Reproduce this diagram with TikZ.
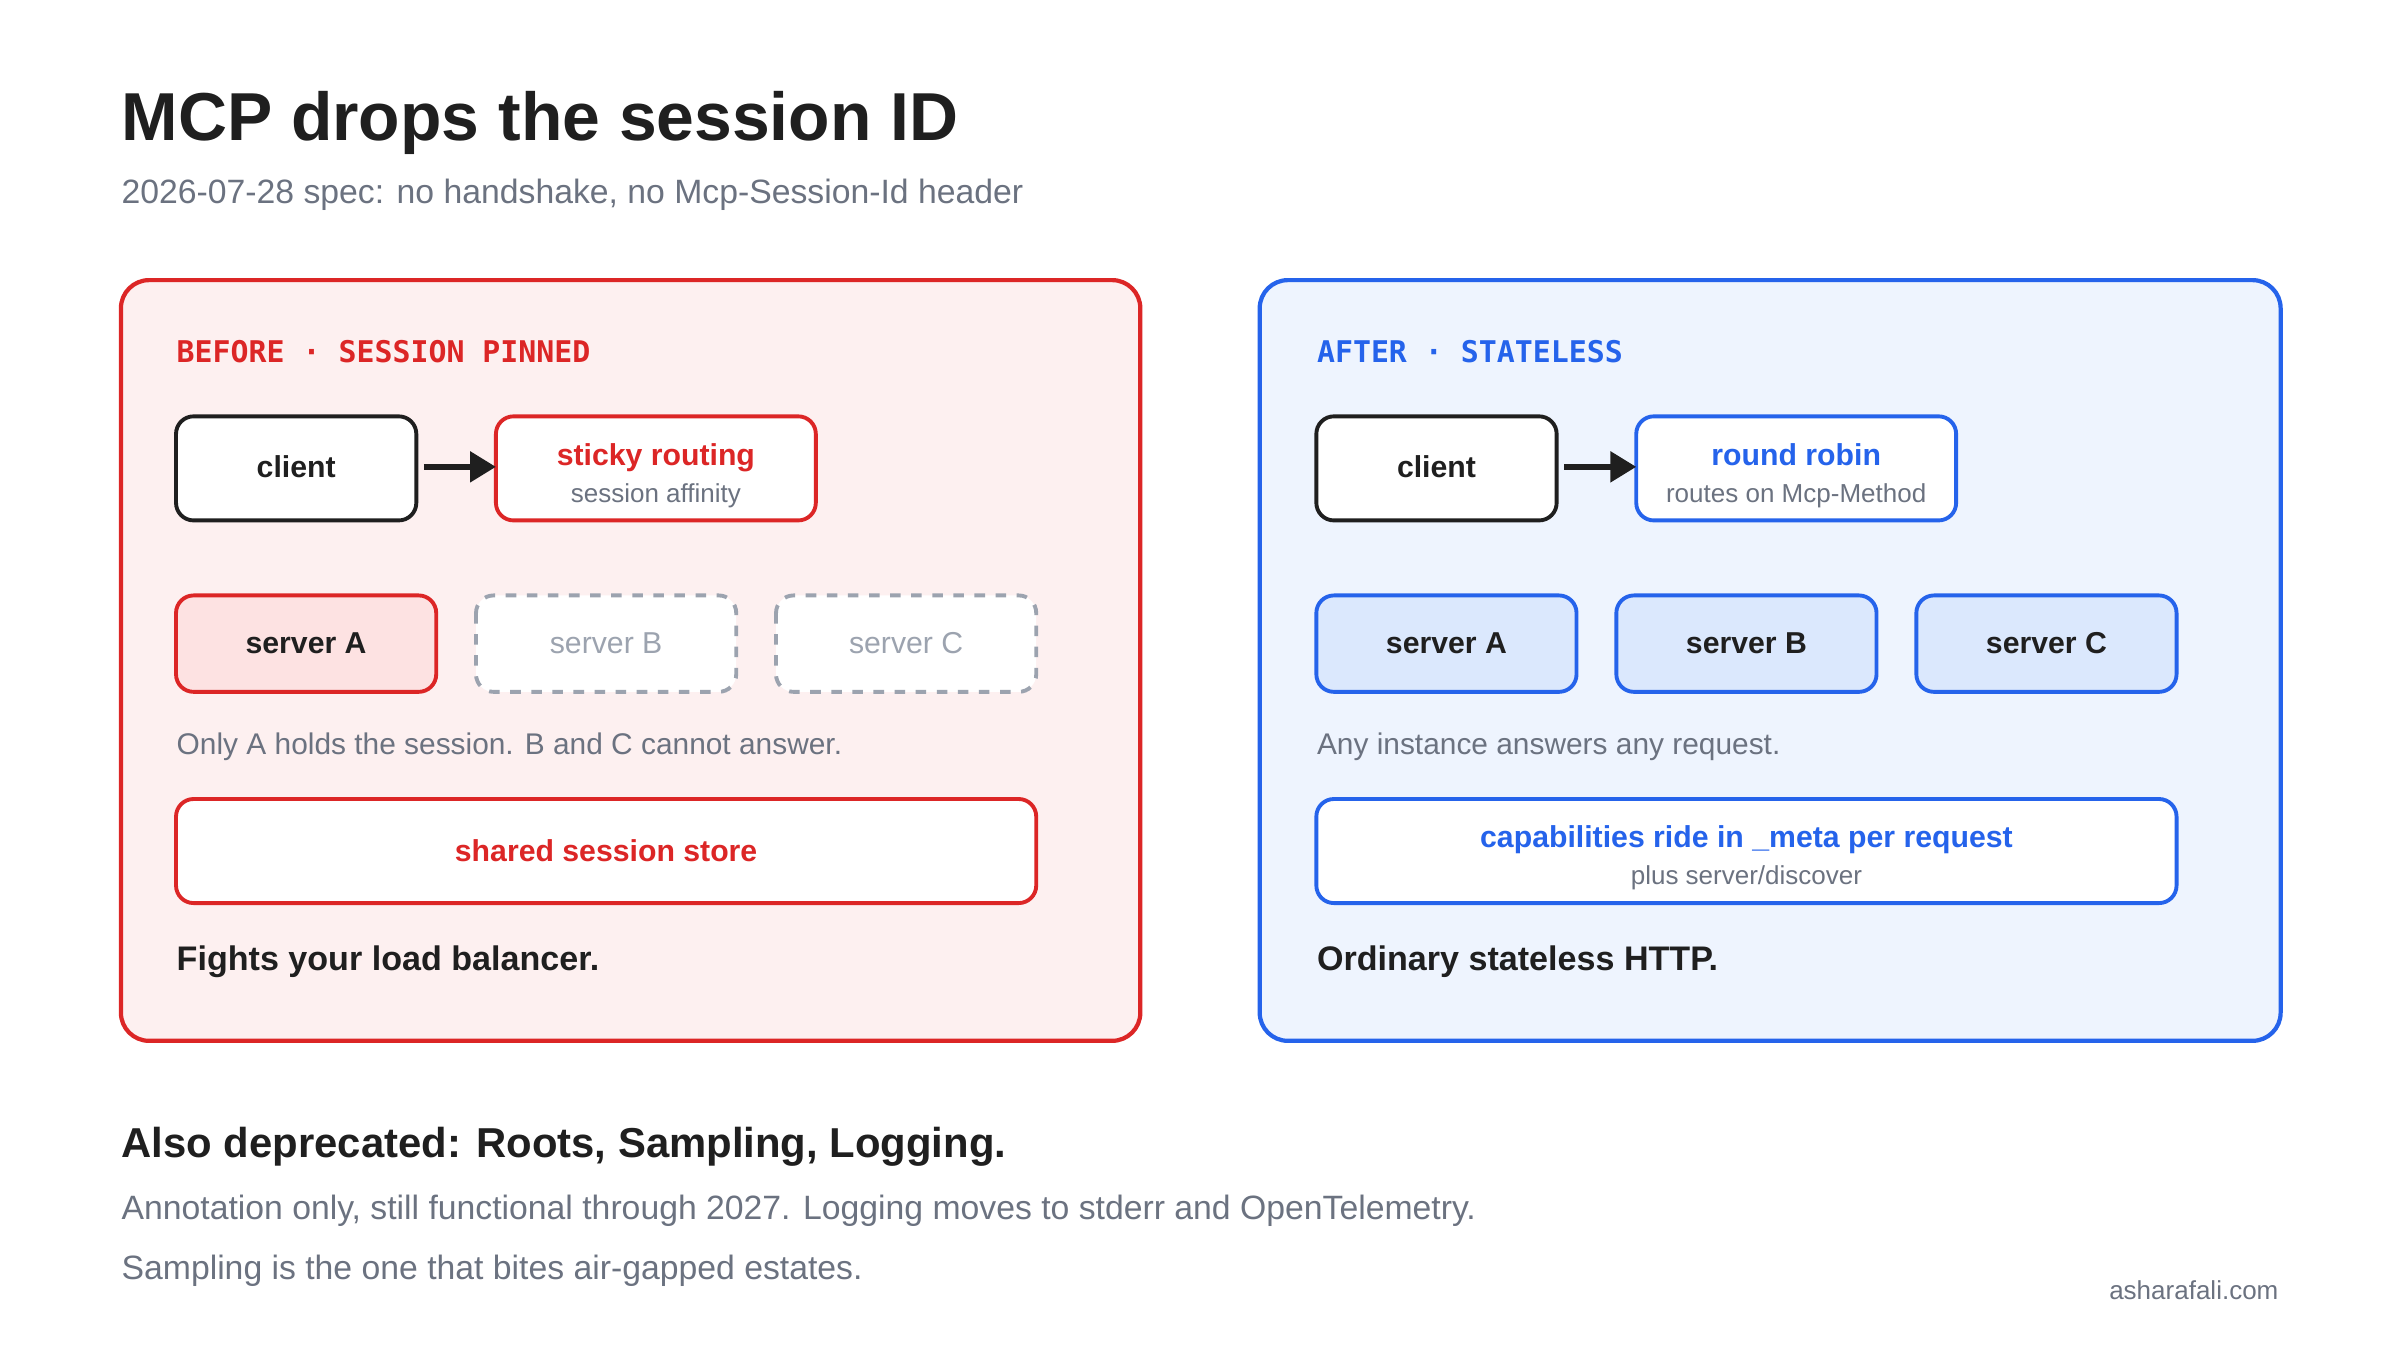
\documentclass[tikz,border=0pt]{standalone}
\usepackage{fontspec}
\setmainfont{Liberation Sans}
\setmonofont{DejaVu Sans Mono}
\usetikzlibrary{arrows.meta}
\definecolor{ink}{HTML}{1F1F1F}
\definecolor{muted}{HTML}{6B7280}
\definecolor{redc}{HTML}{DC2626}
\definecolor{redbg}{HTML}{FDF0F0}
\definecolor{redfill}{HTML}{FDE2E2}
\definecolor{bluec}{HTML}{2563EB}
\definecolor{bluebg}{HTML}{EEF4FE}
\definecolor{bluefill}{HTML}{DBE8FD}
\definecolor{dash}{HTML}{9CA3AF}
\tikzset{>=Triangle}
\begin{document}
\begin{tikzpicture}[x=0.015306cm, y=-0.015306cm]
    \tikzset{panel/.style={rounded corners=8pt, line width=1.2pt}}
    \tikzset{box/.style={rounded corners=5pt, line width=1.1pt, fill=white}}
    \tikzset{txt/.style={anchor=base west, inner sep=0pt}}
    \tikzset{lbl/.style={anchor=base, inner sep=0pt, font=\fontsize{8.6}{10}\selectfont\bfseries}}
    \tikzset{sub/.style={anchor=base, inner sep=0pt, font=\fontsize{7.4}{9}\selectfont, text=muted}}
    \useasboundingbox (0,0) rectangle (1568,882);
    % heading
    \node[txt, font=\fontsize{19.3}{23}\selectfont\bfseries, text=ink] (title) at (79,92) {MCP drops the session ID};
    \node[txt, font=\fontsize{9.6}{12}\selectfont, text=muted] (subtitle) at (79,133) {2026-07-28 spec: no handshake, no Mcp-Session-Id header};
    % before
    \draw[panel, draw=redc, fill=redbg] (79,183) rectangle (745,680);
    \node[txt, font=\fontsize{8.5}{10}\ttfamily\bfseries, text=redc] (beforeHead) at (115,237) {BEFORE · SESSION PINNED};
    \draw[box, draw=ink] (115,272) rectangle (272,340);
    \node[lbl, text=ink] (clientL) at (193.5,312) {client};
    \draw[box, draw=redc] (324,272) rectangle (533,340);
    \node[lbl, text=redc] (sticky) at (428.5,304) {sticky routing};
    \node[sub] (affinity) at (428.5,328) {session affinity};
    \draw[->, line width=1.6pt, ink] (277,305) -- (324,305);
    \draw[box, draw=redc, fill=redfill] (115,389) rectangle (285,452);
    \node[lbl, text=ink] (srvAL) at (200,427) {server A};
    \draw[box, draw=dash, dashed] (311,389) rectangle (481,452);
    \node[lbl, font=\fontsize{8.6}{10}\selectfont, text=dash] (srvBL) at (396,427) {server B};
    \draw[box, draw=dash, dashed] (507,389) rectangle (677,452);
    \node[lbl, font=\fontsize{8.6}{10}\selectfont, text=dash] (srvCL) at (592,427) {server C};
    \node[txt, font=\fontsize{8.5}{11}\selectfont, text=muted] (onlyA) at (115,493) {Only A holds the session. B and C cannot answer.};
    \draw[box, draw=redc] (115,522) rectangle (677,590);
    \node[lbl, text=redc] (store) at (396,563) {shared session store};
    \node[txt, font=\fontsize{9.7}{12}\selectfont\bfseries, text=ink] (fights) at (115,634) {Fights your load balancer.};
    % after
    \draw[panel, draw=bluec, fill=bluebg] (823,183) rectangle (1490,680);
    \node[txt, font=\fontsize{8.5}{10}\ttfamily\bfseries, text=bluec] (afterHead) at (860,237) {AFTER · STATELESS};
    \draw[box, draw=ink] (860,272) rectangle (1017,340);
    \node[lbl, text=ink] (clientR) at (938.5,312) {client};
    \draw[box, draw=bluec] (1069,272) rectangle (1278,340);
    \node[lbl, text=bluec] (robin) at (1173.5,304) {round robin};
    \node[sub] (routes) at (1173.5,328) {routes on Mcp-Method};
    \draw[->, line width=1.6pt, ink] (1022,305) -- (1069,305);
    \draw[box, draw=bluec, fill=bluefill] (860,389) rectangle (1030,452);
    \node[lbl, text=ink] (srvAR) at (945,427) {server A};
    \draw[box, draw=bluec, fill=bluefill] (1056,389) rectangle (1226,452);
    \node[lbl, text=ink] (srvBR) at (1141,427) {server B};
    \draw[box, draw=bluec, fill=bluefill] (1252,389) rectangle (1422,452);
    \node[lbl, text=ink] (srvCR) at (1337,427) {server C};
    \node[txt, font=\fontsize{8.5}{11}\selectfont, text=muted] (anyInst) at (860,493) {Any instance answers any request.};
    \draw[box, draw=bluec] (860,522) rectangle (1422,590);
    \node[lbl, text=bluec] (caps) at (1141,554) {capabilities ride in \_meta per request};
    \node[sub] (discover) at (1141,578) {plus server/discover};
    \node[txt, font=\fontsize{9.7}{12}\selectfont\bfseries, text=ink] (ordinary) at (860,634) {Ordinary stateless HTTP.};
    % footer
    \node[txt, font=\fontsize{11.9}{14}\selectfont\bfseries, text=ink] (also) at (79,756) {Also deprecated: Roots, Sampling, Logging.};
    \node[txt, font=\fontsize{9.6}{12}\selectfont, text=muted] (note1) at (79,797) {Annotation only, still functional through 2027. Logging moves to stderr and OpenTelemetry.};
    \node[txt, font=\fontsize{9.6}{12}\selectfont, text=muted] (note2) at (79,836) {Sampling is the one that bites air-gapped estates.};
    \node[anchor=base east, inner sep=0pt, font=\fontsize{7.4}{9}\selectfont, text=muted] (site) at (1489,849) {asharafali.com};
\end{tikzpicture}
\end{document}
